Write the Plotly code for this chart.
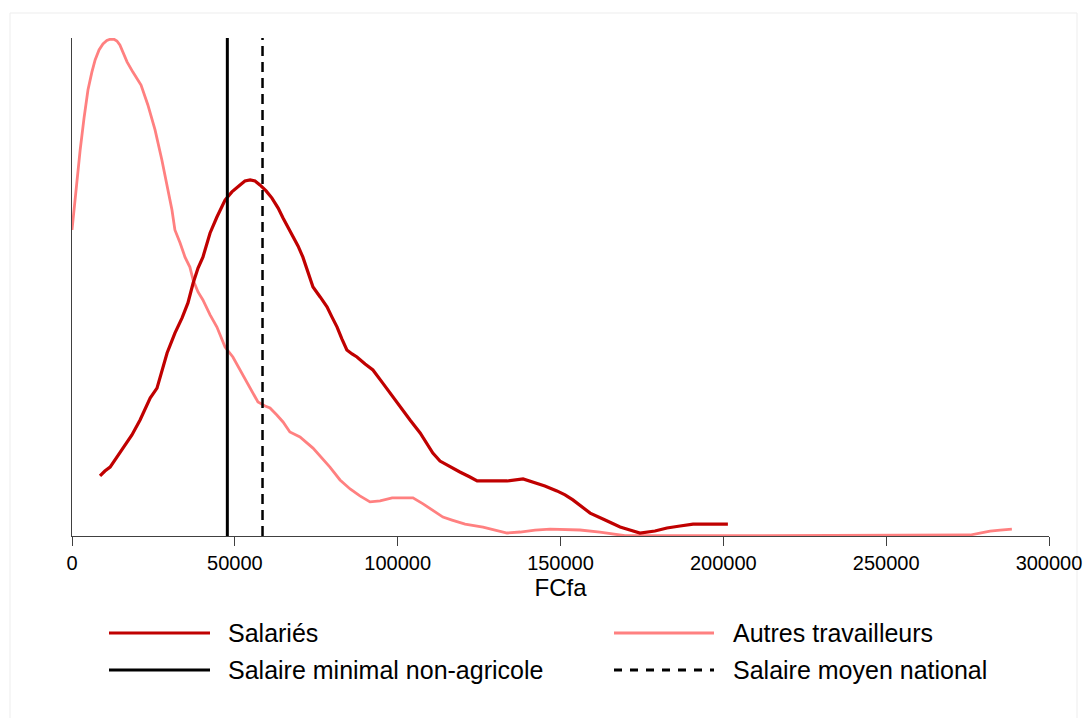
import plotly.graph_objects as go

# ---- Data (density x 1e-5) ----
autres_x = [0, 1200, 2500, 3700, 4900, 6100, 7100, 8300, 9500, 10700, 11700, 12900,
            13800, 14700, 15400, 16300, 16900, 18700, 21200, 23300, 25500, 27600,
            29500, 30700, 31600, 33200, 34700, 36200, 37200, 38700, 40200, 42400,
            44500, 47000, 49400, 51900, 54700, 57100, 59300, 60800, 62900, 64800,
            66900, 70000, 74000, 76800, 79200, 82300, 85400, 88400, 91500, 94600,
            98300, 100700, 104700, 107800, 110800, 113900, 116700, 120700, 126200,
            129900, 133600, 137600, 142200, 146800, 156000, 162100, 166100, 169800,
            192800, 223500, 254300, 272700, 275800, 278800, 281900, 285000, 288600]
autres_y = [1.229, 1.390, 1.550, 1.679, 1.791, 1.863, 1.912, 1.952, 1.976, 1.990, 1.995,
            1.995, 1.988, 1.972, 1.952, 1.928, 1.904, 1.863, 1.811, 1.731, 1.631, 1.510,
            1.390, 1.309, 1.229, 1.177, 1.120, 1.080, 1.028, 0.980, 0.948, 0.888, 0.839,
            0.759, 0.719, 0.659, 0.598, 0.538, 0.522, 0.514, 0.486, 0.458, 0.418, 0.398,
            0.353, 0.313, 0.277, 0.225, 0.189, 0.161, 0.137, 0.141, 0.153, 0.153, 0.153,
            0.129, 0.104, 0.076, 0.064, 0.048, 0.036, 0.024, 0.012, 0.016, 0.024, 0.028,
            0.024, 0.016, 0.008, 0.001, 0.001, 0.001, 0.001, 0.001, 0.004, 0.012, 0.020,
            0.024, 0.028]

salaries_x = [8600, 10100, 11700, 13500, 15700, 18400, 20900, 22400, 24000, 26100,
              27600, 29200, 31600, 33800, 35600, 37200, 38700, 40200, 42400, 44500,
              47000, 49100, 51600, 53100, 54700, 56200, 57700, 59600, 61400, 63300,
              64800, 66300, 67900, 69400, 70900, 72500, 74000, 76200, 78300, 79800,
              81400, 82900, 84400, 86000, 87500, 90000, 92400, 95200, 97600, 99800,
              101600, 103800, 106900, 109000, 110800, 113000, 115100, 119100, 122200,
              124400, 128400, 133600, 138500, 141600, 145200, 148900, 151400, 153800,
              156600, 159100, 163700, 168300, 171300, 174400, 179000, 182700, 186700,
              190700, 195900, 201400]
salaries_y = [0.241, 0.261, 0.277, 0.313, 0.353, 0.406, 0.466, 0.510, 0.554, 0.594,
              0.667, 0.735, 0.815, 0.876, 0.936, 1.016, 1.076, 1.120, 1.217, 1.281,
              1.349, 1.382, 1.410, 1.426, 1.430, 1.426, 1.410, 1.386, 1.357, 1.317,
              1.277, 1.241, 1.201, 1.165, 1.120, 1.060, 1.000, 0.960, 0.920, 0.880,
              0.839, 0.791, 0.747, 0.731, 0.719, 0.691, 0.667, 0.618, 0.574, 0.538,
              0.506, 0.466, 0.414, 0.373, 0.333, 0.301, 0.285, 0.257, 0.237, 0.221,
              0.221, 0.221, 0.229, 0.217, 0.201, 0.181, 0.165, 0.145, 0.116, 0.092,
              0.064, 0.036, 0.024, 0.012, 0.020, 0.032, 0.040, 0.048, 0.048, 0.048]

salaire_minimal = 47700
salaire_moyen = 58500

x_ticks = [0, 50000, 100000, 150000, 200000, 250000, 300000]
x_tick_labels = ["0", "50000", "100000", "150000", "200000", "250000", "300000"]

legend_labels = ["Salariés", "Autres travailleurs",
                 "Salaire minimal non-agricole", "Salaire moyen national"]

DARK = "#C00000"
LIGHT = "#FF8080"
FONT = "Liberation Sans, Arial, sans-serif"

fig = go.Figure()
fig.add_trace(go.Scatter(x=autres_x, y=autres_y, mode="lines",
                         line=dict(color=LIGHT, width=2.8), name=legend_labels[1]))
fig.add_trace(go.Scatter(x=salaries_x, y=salaries_y, mode="lines",
                         line=dict(color=DARK, width=3.2), name=legend_labels[0]))

# Reference vertical lines (data x, full plot height)
fig.add_shape(type="line", xref="x", yref="paper", x0=salaire_minimal, x1=salaire_minimal,
              y0=0, y1=1, line=dict(color="black", width=3))
fig.add_shape(type="line", xref="x", yref="paper", x0=salaire_moyen, x1=salaire_moyen,
              y0=0, y1=1, line=dict(color="black", width=2.5, dash="10px,6px"))

# Custom legend (two columns) drawn below the plot
PW, PH, L, B = 977.0, 498.0, 72.0, 536.0
def px(xp):
    return (xp - L) / PW
def py(yp):
    return (B - yp) / PH

legend_items = [
    (109, 210, 226, 633, legend_labels[0], DARK, "solid"),
    (614, 714, 731, 633, legend_labels[1], LIGHT, "solid"),
    (109, 210, 226, 670, legend_labels[2], "black", "solid"),
    (614, 714, 731, 670, legend_labels[3], "black", "8px,8px"),
]
for x0, x1, xt, yy, label, col, dash in legend_items:
    fig.add_shape(type="line", xref="paper", yref="paper", x0=px(x0), x1=px(x1),
                  y0=py(yy), y1=py(yy), line=dict(color=col, width=3, dash=dash))
    fig.add_annotation(xref="paper", yref="paper", x=px(xt), y=py(yy), text=label,
                       showarrow=False, xanchor="left", yanchor="middle",
                       font=dict(family=FONT, size=25, color="black"))

# faint outer frame
fig.add_shape(type="rect", xref="paper", yref="paper", x0=px(10), x1=px(1077),
              y0=py(722), y1=py(13), line=dict(color="#EDEDED", width=1), layer="below")

fig.update_layout(
    width=1088, height=718, autosize=False,
    margin=dict(l=72, r=39, t=38, b=182, autoexpand=False),
    paper_bgcolor="white", plot_bgcolor="white",
    showlegend=False,
    font=dict(family=FONT, color="black"),
    xaxis=dict(range=[0, 300000], tickvals=x_ticks, ticktext=x_tick_labels,
               ticks="outside", ticklen=9, tickwidth=1.3, tickcolor="#404040",
               showline=True, linecolor="#404040", linewidth=1.3,
               showgrid=False, zeroline=False, ticklabeloverflow="allow",
               automargin=False,
               tickfont=dict(family=FONT, size=20, color="black"),
               title=dict(text="FCfa", font=dict(family=FONT, size=24, color="black"),
                          standoff=0)),
    yaxis=dict(range=[0, 2.0], showline=True, linecolor="#404040", linewidth=1,
               showticklabels=False, ticks="", showgrid=False, zeroline=False,
               automargin=False),
)

fig.write_html("out.html", config={"displayModeBar": False},
               post_script="document.body.style.margin='0';document.body.style.overflow='hidden';")
